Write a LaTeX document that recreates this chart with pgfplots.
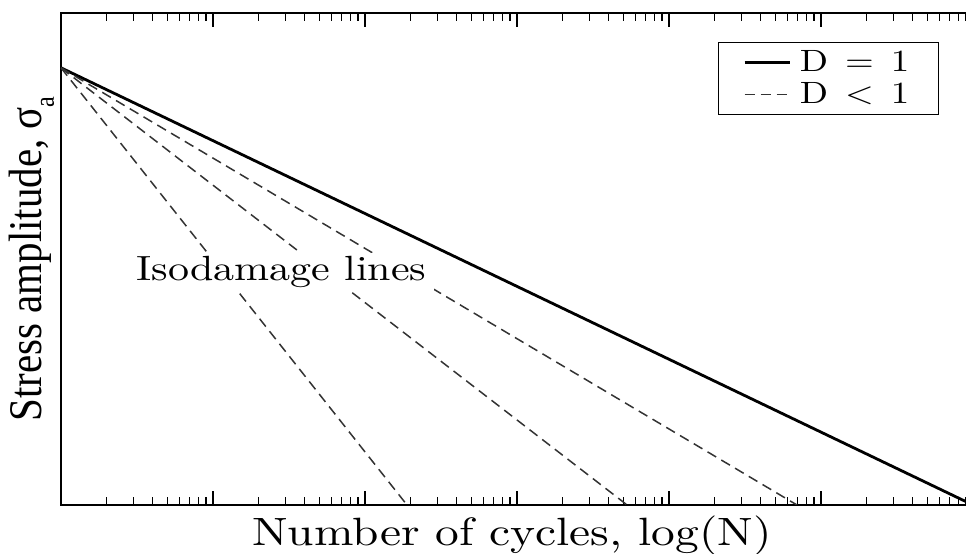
\documentclass[border=0pt]{standalone}
\usepackage{fontspec}
\setmainfont{lmroman10-regular.otf}
\usepackage{graphicx}
\usepackage{pgfplots}
\pgfplotsset{compat=1.18}
\newfontfamily\timesfont{Liberation Serif}
\begin{document}
\begin{tikzpicture}
\begin{axis}[
  scale only axis, width=456pt, height=246pt,
  xmode=log, xmin=1, xmax=1e6, ymin=0, ymax=7,
  xtick={1,10,100,1000,10000,100000,1000000},
  minor xtick={2,3,4,5,6,7,8,9,20,30,40,50,60,70,80,90,200,300,400,500,600,700,800,900,2000,3000,4000,5000,6000,7000,8000,9000,20000,30000,40000,50000,60000,70000,80000,90000,200000,300000,400000,500000,600000,700000,800000,900000},
  xticklabels={},
  ytick=\empty,
  minor ytick={1,2,3,4,5,6},
  tick pos=both, tick align=inside,
  major tick length=7pt, minor tick length=4pt,
  tick style={black, line width=0.55pt},
  axis line style={line width=1.3pt},
  xlabel={\scalebox{1.2}[1]{Number of cycles, log(N)}},
  xlabel style={at={(axis description cs:0.4945,0)}, anchor=north, inner sep=0pt, yshift=-5pt, font=\fontsize{19.75}{22}\selectfont},
  ylabel={\timesfont\scalebox{1.05}[1.2]{Stress amplitude, σ\raisebox{-5pt}{\fontsize{11.5}{13}\selectfont a}}},
  ylabel style={at={(axis description cs:-0.007,0.5)}, anchor=south, inner sep=0pt, font=\fontsize{19.5}{22}\selectfont},
  legend style={at={(1,1)}, anchor=north east, xshift=-17pt, yshift=-14.5pt, draw=black, line width=0.6pt, inner xsep=12.5pt, inner ysep=2pt, nodes={inner sep=2pt}, font=\fontsize{15.4}{18}\selectfont, cells={anchor=west}},
  legend image code/.code={\draw[#1] (0pt,0pt) -- (22.5pt,0pt); \path (25pt,0pt);},
]
\addplot[black, line width=1.4pt] coordinates {(1,6.22) (1000000,0)};
\addlegendentry{\scalebox{1.2}[1]{D\hspace{0.46em}=\hspace{0.46em}1}}
\addplot[black!80, line width=0.75pt, dash pattern=on 5pt off 3pt] coordinates {(1,6.22) (189,0)};
\addlegendentry{\scalebox{1.2}[1]{D\hspace{0.46em}<\hspace{0.46em}1}}
\addplot[black!80, line width=0.75pt, dash pattern=on 5pt off 3pt, forget plot] coordinates {(1,6.22) (5300,0)};
\addplot[black!80, line width=0.75pt, dash pattern=on 5pt off 3pt, forget plot] coordinates {(1,6.22) (69500,0)};
\node[fill=white, inner xsep=4pt, inner ysep=2pt, anchor=base, font=\fontsize{17.5}{20}\selectfont] at (axis cs:28.2,3.187) {\scalebox{1.2}[1]{Isodamage lines}};
\end{axis}
\pgfresetboundingbox
\useasboundingbox ([xshift=-30.5pt,yshift=-24.5pt]current axis.south west) rectangle ([xshift=452.5pt,yshift=6.5pt]current axis.north west);
\end{tikzpicture}
\end{document}
